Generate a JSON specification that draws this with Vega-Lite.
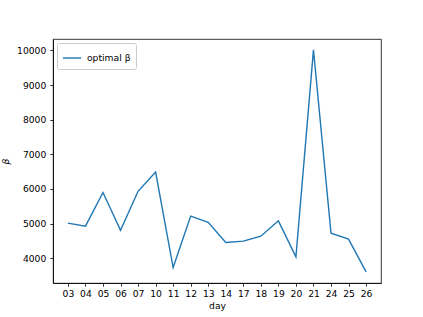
{
  "$schema": "https://vega.github.io/schema/vega-lite/v6.json",
  "width": 328,
  "height": 244,
  "autosize": {"type": "none"},
  "padding": {"left": 53, "top": 39, "right": 42, "bottom": 34},
  "background": "white",
  "config": {
    "view": {"stroke": "black", "strokeWidth": 0.8},
    "axis": {
      "grid": false,
      "domainColor": "black",
      "domainWidth": 0.8,
      "tickColor": "black",
      "tickWidth": 0.8,
      "tickSize": 3.2,
      "labelColor": "black",
      "labelFont": "DejaVu Sans",
      "labelFontSize": 9.2,
      "titleFont": "DejaVu Sans",
      "titleFontSize": 9.2,
      "titleFontWeight": "normal",
      "titleColor": "black"
    },
    "legend": {
      "labelFont": "DejaVu Sans",
      "labelFontSize": 9.2,
      "labelColor": "black"
    }
  },
  "data": {
    "values": [
      {"day": "03", "beta": 5010, "series": "optimal β"},
      {"day": "04", "beta": 4925, "series": "optimal β"},
      {"day": "05", "beta": 5895, "series": "optimal β"},
      {"day": "06", "beta": 4805, "series": "optimal β"},
      {"day": "07", "beta": 5930, "series": "optimal β"},
      {"day": "10", "beta": 6488, "series": "optimal β"},
      {"day": "11", "beta": 3727, "series": "optimal β"},
      {"day": "12", "beta": 5214, "series": "optimal β"},
      {"day": "13", "beta": 5035, "series": "optimal β"},
      {"day": "14", "beta": 4450, "series": "optimal β"},
      {"day": "17", "beta": 4490, "series": "optimal β"},
      {"day": "18", "beta": 4635, "series": "optimal β"},
      {"day": "19", "beta": 5078, "series": "optimal β"},
      {"day": "20", "beta": 4036, "series": "optimal β"},
      {"day": "21", "beta": 10015, "series": "optimal β"},
      {"day": "24", "beta": 4722, "series": "optimal β"},
      {"day": "25", "beta": 4549, "series": "optimal β"},
      {"day": "26", "beta": 3602, "series": "optimal β"}
    ]
  },
  "mark": {"type": "line", "strokeWidth": 1.4},
  "encoding": {
    "x": {
      "field": "day",
      "type": "ordinal",
      "scale": {"type": "point", "padding": 0.85},
      "axis": {"title": "day", "labelAngle": 0, "labelPadding": 3, "titlePadding": 3}
    },
    "y": {
      "field": "beta",
      "type": "quantitative",
      "scale": {"domain": [3282, 10330], "nice": false, "zero": false},
      "axis": {
        "title": "β",
        "titleFontStyle": "italic",
        "format": "d",
        "values": [4000, 5000, 6000, 7000, 8000, 9000, 10000],
        "labelPadding": 4,
        "titlePadding": 6
      }
    },
    "color": {
      "field": "series",
      "type": "nominal",
      "scale": {"range": ["#1f77b4"]},
      "legend": {
        "title": null,
        "orient": "top-left",
        "offset": 4,
        "symbolType": "stroke",
        "symbolSize": 330,
        "symbolStrokeWidth": 1.4,
        "fillColor": "white",
        "strokeColor": "#cccccc",
        "cornerRadius": 2,
        "padding": 5,
        "labelOffset": 5
      }
    }
  }
}
